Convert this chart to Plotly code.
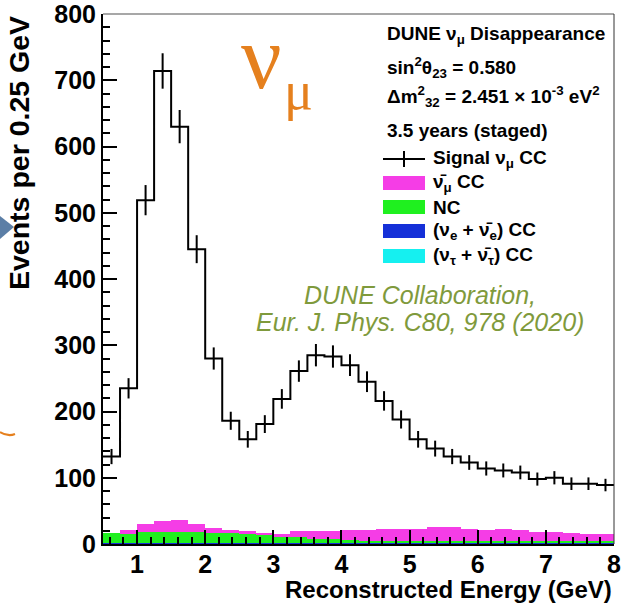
import numpy as np
import plotly.graph_objects as go

# Binning: 0.25 GeV bins from 0.5 to 8 GeV
bin_lo = 0.5
bin_width = 0.25

# Signal numu CC events per bin
signal = [132, 235, 519, 714, 630, 445, 280, 186, 158, 181,
          219, 261, 285, 283, 270, 245, 216, 188, 158, 144,
          132, 123, 114, 111, 108, 98, 100, 91, 91, 89]

# Background components per bin (stacked, bottom to top)
nutau_cc = [0.5, 0.5, 0.5, 0.5, 0.5, 0.5, 0.5, 0.5, 0.5, 0.5,
            1, 1, 1, 1, 1, 1, 1, 1, 1, 1,
            1, 1, 1, 1, 1, 1, 1, 1, 1, 1]
nue_cc = [1, 1, 1, 1, 1, 1, 1, 1, 1, 1,
          1, 1, 1, 1, 1, 1, 1, 1, 1, 1,
          1, 1, 1, 1, 1, 1, 1, 1, 1, 1]
nc = [14.5, 13.5, 16.5, 16.5, 16.5, 16.5, 15.5, 14.5, 13.5, 12.5,
      10, 8, 6, 5, 4, 3, 3, 3, 3, 3,
      3, 3, 2, 2, 2, 2, 2, 2, 2, 2]
numubar_cc = [0, 6, 12, 17, 18, 12, 7, 5, 4, 3,
              3, 9, 12, 13, 15, 16, 17, 17, 17, 21,
              20, 17, 17, 18, 17, 14, 14, 12, 11, 11]

x_ticks = [1, 2, 3, 4, 5, 6, 7, 8]
y_ticks = [0, 100, 200, 300, 400, 500, 600, 700, 800]

n_bins = len(signal)
edges = bin_lo + bin_width * np.arange(n_bins + 1)
centers = edges[:-1] + bin_width / 2

C_MAG = "#F53DE6"
C_GRN = "#1FF01F"
C_BLU = "#1530D8"
C_CYA = "#15F0F0"
C_ORANGE = "#E5801E"
C_OLIVE = "#7F9A3C"

fig = go.Figure()

for vals, col in [(nutau_cc, C_CYA), (nue_cc, C_BLU), (nc, C_GRN), (numubar_cc, C_MAG)]:
    fig.add_trace(go.Bar(x=centers, y=vals, width=bin_width,
                         marker=dict(color=col, line=dict(width=0)),
                         showlegend=False, hoverinfo="skip"))

# Signal histogram as a step line
fig.add_trace(go.Scatter(x=edges, y=signal + [signal[-1]], mode="lines",
                         line=dict(color="black", width=2, shape="hv"),
                         showlegend=False, hoverinfo="skip"))
# Statistical error bars
fig.add_trace(go.Scatter(x=centers, y=signal, mode="markers",
                         marker=dict(size=1, color="black"),
                         error_y=dict(type="data", array=np.sqrt(signal),
                                      width=0, thickness=2, color="black"),
                         showlegend=False, hoverinfo="skip"))

# Plot-area pixel frame
L, R, T, B = 103, 614, 14, 544
W, H = 630, 603


def fx(p):
    return (p - L) / (R - L)


def fy(p):
    return (B - p) / (B - T)


shapes = [
    dict(type="line", xref="paper", yref="paper", x0=0, x1=1, y0=1, y1=1,
         line=dict(color="#8a8a8a", width=1.5)),
    dict(type="line", xref="paper", yref="paper", x0=1, x1=1, y0=0, y1=1,
         line=dict(color="#333333", width=1)),
]

annotations = []
bold = dict(family="Liberation Sans", size=19, color="black")


def text(px, py, s, font=bold, xanchor="left", **kw):
    annotations.append(dict(xref="paper", yref="paper", x=fx(px), y=fy(py),
                            text=s, showarrow=False, xanchor=xanchor,
                            yanchor="middle", font=font, **kw))


# Legend header
text(385, 35, "<b>DUNE ν<sub>μ</sub> Disappearance</b>")
text(385, 68, "<b>sin<sup>2</sup>θ<sub>23</sub> = 0.580</b>")
text(385, 97, "<b>Δm<sup>2</sup><sub>32</sub> = 2.451 × 10<sup>-3</sup> eV<sup>2</sup></b>")
text(385, 131, "<b>3.5 years (staged)</b>")

# Legend entries
rows = [159, 183, 207, 231, 256]
labels = ["<b>Signal ν<sub>μ</sub> CC</b>",
          "<b>ν̄<sub>μ</sub> CC</b>",
          "<b>NC</b>",
          "<b>(ν<sub>e</sub> + ν̄<sub>e</sub>) CC</b>",
          "<b>(ν<sub>τ</sub> + ν̄<sub>τ</sub>) CC</b>"]
for r, lab in zip(rows, labels):
    text(431, r, lab)

shapes.append(dict(type="line", xref="paper", yref="paper",
                   x0=fx(383), x1=fx(425), y0=fy(rows[0]), y1=fy(rows[0]),
                   line=dict(color="black", width=2)))
shapes.append(dict(type="line", xref="paper", yref="paper",
                   x0=fx(404), x1=fx(404), y0=fy(rows[0] - 8), y1=fy(rows[0] + 8),
                   line=dict(color="black", width=2)))
for r, col in zip(rows[1:], [C_MAG, C_GRN, C_BLU, C_CYA]):
    shapes.append(dict(type="rect", xref="paper", yref="paper",
                       x0=fx(383), x1=fx(425), y0=fy(r - 7), y1=fy(r + 7),
                       fillcolor=col, line=dict(width=0)))

# Large flavour label
text(261, 58, "ν", font=dict(family="Liberation Serif", size=90, color=C_ORANGE),
     xanchor="center")
text(298, 91, "μ", font=dict(family="Liberation Serif", size=54, color=C_ORANGE),
     xanchor="center")

# Citation
cite_font = dict(family="Liberation Sans", size=25, color=C_OLIVE)
text(420, 295, "<i>DUNE Collaboration,</i>", font=cite_font, xanchor="center")
text(420, 322, "<i>Eur. J. Phys. C80, 978 (2020)</i>", font=cite_font, xanchor="center")

# Axis titles (aligned at the axis ends)
annotations.append(dict(xref="paper", yref="paper", x=1, y=fy(589),
                        text="<b>Reconstructed Energy (GeV)</b>", showarrow=False,
                        xanchor="right", yanchor="middle",
                        font=dict(family="Liberation Sans", size=24, color="black")))
annotations.append(dict(xref="paper", yref="paper", x=fx(19), y=1,
                        text="<b>Events per 0.25 GeV</b>", showarrow=False,
                        xanchor="center", yanchor="top", textangle=-90,
                        font=dict(family="Liberation Sans", size=28.5, color="black")))

# Slide decorations at the left border
shapes.append(dict(type="path", xref="paper", yref="paper",
                   path=f"M {fx(0)} {fy(216)} L {fx(14)} {fy(227)} L {fx(0)} {fy(239)} Z",
                   fillcolor="#5b7ea6", line=dict(width=0)))
shapes.append(dict(type="path", xref="paper", yref="paper",
                   path=f"M {fx(0)} {fy(432)} Q {fx(8)} {fy(437)} {fx(15)} {fy(434)}",
                   line=dict(color=C_ORANGE, width=2)))

axis_common = dict(showgrid=False, zeroline=False, showline=True, linewidth=2,
                   linecolor="black", ticks="inside", ticklen=14, tickwidth=2,
                   tickcolor="black", automargin=False, ticklabeloverflow="allow",
                   tickfont=dict(family="Liberation Sans", size=25, color="black",
                                 weight="bold"))

fig.update_layout(
    width=W, height=H,
    margin=dict(l=L, r=W - R, t=T, b=H - B, autoexpand=False),
    paper_bgcolor="white", plot_bgcolor="white",
    barmode="stack", bargap=0,
    showlegend=False,
    shapes=shapes, annotations=annotations,
    xaxis=dict(range=[bin_lo, edges[-1]], tickvals=x_ticks, ticklabelstandoff=-3,
               minor=dict(dtick=0.2, tick0=0, ticks="inside", ticklen=7,
                          tickwidth=2, tickcolor="black", showgrid=False),
               **axis_common),
    yaxis=dict(range=[y_ticks[0], y_ticks[-1]], tickvals=y_ticks,
               minor=dict(dtick=20, tick0=0, ticks="inside", ticklen=7,
                          tickwidth=2, tickcolor="black", showgrid=False),
               **axis_common),
)

fig.write_html("out.html")
